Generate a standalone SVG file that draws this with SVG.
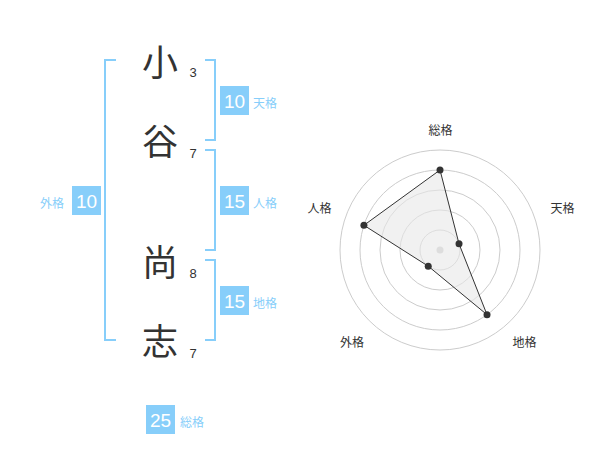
<svg xmlns="http://www.w3.org/2000/svg" width="600" height="470" viewBox="0 0 600 470">
<style>
.bk{fill:none;stroke:#87CEFA;stroke-width:2}
.ch{font-family:"Noto Sans CJK JP","Noto Sans CJK SC",sans-serif;font-size:36px;fill:#333;text-anchor:middle}
.num{font-family:"Liberation Sans",Arial,sans-serif;font-size:13px;fill:#333;text-anchor:middle}
.box{fill:#87CEFA}
.bn{font-family:"Liberation Sans",Arial,sans-serif;font-size:19px;fill:#fff;text-anchor:middle}
.bl{font-family:"Noto Sans CJK JP","Noto Sans CJK SC",sans-serif;font-size:12px;fill:#87CEFA}
.rl{font-family:"Noto Sans CJK JP","Noto Sans CJK SC",sans-serif;font-size:12px;fill:#333;text-anchor:middle}
.ring{fill:none;stroke:#ccc;stroke-width:1}
.pt{fill:#333}
</style>
<rect width="600" height="470" fill="#fff"/>
<g id="connectors">
<path class="bk" d="M116,60 H105 V340 H116"/>
<path class="bk" d="M205,60 H215 V140 H205"/>
<path class="bk" d="M205,150 H215 V250 H205"/>
<path class="bk" d="M205,260 H215 V340 H205"/>
</g>
<g id="char1"><text class="ch" x="160" y="76">小</text><text class="num" x="193" y="77">3</text></g>
<g id="char2"><text class="ch" x="160" y="155">谷</text><text class="num" x="193" y="158">7</text></g>
<g id="char3"><text class="ch" x="160" y="276">尚</text><text class="num" x="193" y="278">8</text></g>
<g id="char4"><text class="ch" x="160" y="355">志</text><text class="num" x="193" y="358">7</text></g>
<g id="tenkaku"><rect class="box" x="220" y="86" width="29" height="29"/><text class="bn" x="234.5" y="108">10</text><text class="bl" x="253" y="108">天格</text></g>
<g id="jinkaku"><rect class="box" x="220" y="186" width="29" height="29"/><text class="bn" x="234.5" y="208">15</text><text class="bl" x="253" y="208">人格</text></g>
<g id="chikaku"><rect class="box" x="220" y="286" width="29" height="29"/><text class="bn" x="234.5" y="308">15</text><text class="bl" x="253" y="308">地格</text></g>
<g id="gaikaku"><rect class="box" x="72" y="186" width="29" height="29"/><text class="bn" x="86.5" y="208">10</text><text class="bl" x="40" y="208">外格</text></g>
<g id="soukaku"><rect class="box" x="146" y="405" width="29" height="29"/><text class="bn" x="160.5" y="427">25</text><text class="bl" x="180" y="427">総格</text></g>
<g id="radar">
<circle class="ring" cx="440" cy="250" r="20"/>
<circle class="ring" cx="440" cy="250" r="40"/>
<circle class="ring" cx="440" cy="250" r="60"/>
<circle class="ring" cx="440" cy="250" r="80"/>
<circle class="ring" cx="440" cy="250" r="100"/>
<circle cx="440" cy="250" r="3.5" fill="#ccc"/>
<polygon points="440,170 459.02,243.82 487.02,314.72 428.24,266.18 363.92,225.28" fill="#e8e8e8" fill-opacity="0.6" stroke="#333" stroke-width="1"/>
<circle class="pt" cx="440" cy="170" r="3.5"/>
<circle class="pt" cx="459.02" cy="243.82" r="3.5"/>
<circle class="pt" cx="487.02" cy="314.72" r="3.5"/>
<circle class="pt" cx="428.24" cy="266.18" r="3.5"/>
<circle class="pt" cx="363.92" cy="225.28" r="3.5"/>
<text class="rl" x="440.5" y="135">総格</text>
<text class="rl" x="562.5" y="213">天格</text>
<text class="rl" x="524.5" y="347">地格</text>
<text class="rl" x="352" y="347">外格</text>
<text class="rl" x="319.5" y="213">人格</text>
</g>
</svg>
